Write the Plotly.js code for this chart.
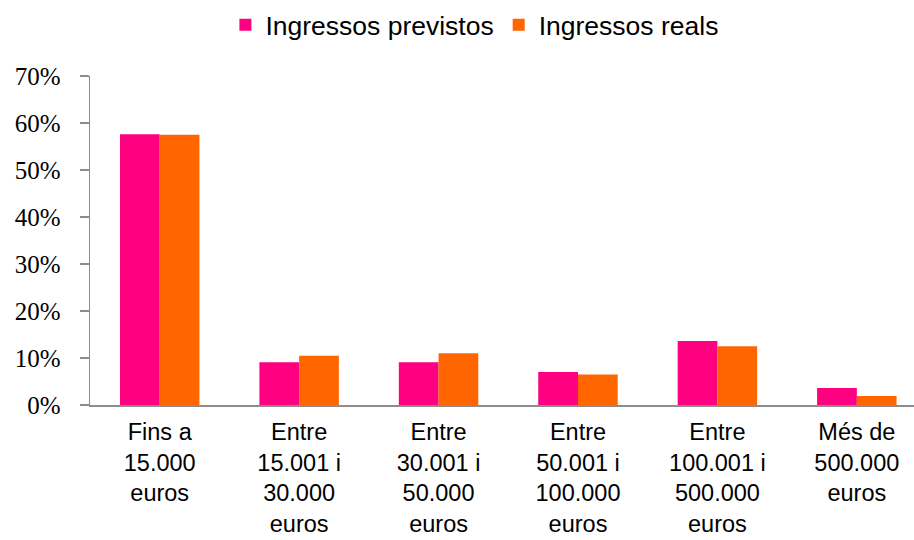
<!DOCTYPE html>
<html>
<head>
<meta charset="utf-8">
<script src="https://cdn.plot.ly/plotly-3.0.1.min.js"></script>
<style>html,body{margin:0;padding:0;background:#fff;}#chart{width:914px;height:540px;}</style>
</head>
<body>
<div id="chart"></div>
<script>
const categories = [
  "Fins a<br>15.000<br>euros",
  "Entre<br>15.001 i<br>30.000<br>euros",
  "Entre<br>30.001 i<br>50.000<br>euros",
  "Entre<br>50.001 i<br>100.000<br>euros",
  "Entre<br>100.001 i<br>500.000<br>euros",
  "Més de<br>500.000<br>euros"
];
const ingressosPrevistos = [57.6, 9.1, 9.1, 7.0, 13.6, 3.6];
const ingressosReals = [57.5, 10.5, 11.0, 6.5, 12.5, 1.9];
const yTickVals = [0, 10, 20, 30, 40, 50, 60, 70];
const yTickText = ["0%", "10%", "20%", "30%", "40%", "50%", "60%", "70%"];

const traces = [
  {type: 'bar', name: 'Ingressos previstos', x: categories, y: ingressosPrevistos,
   marker: {color: '#FF0080'}},
  {type: 'bar', name: 'Ingressos reals', x: categories, y: ingressosReals,
   marker: {color: '#FF6600'}}
];

const layout = {
  width: 914, height: 540,
  margin: {l: 90, r: 0, t: 76, b: 135, pad: 0},
  paper_bgcolor: '#fff', plot_bgcolor: '#fff',
  barmode: 'group', bargap: 0.43, bargroupgap: 0,
  showlegend: true,
  legend: {orientation: 'h', x: 0.4665, xanchor: 'center', y: 1.155, yanchor: 'middle',
    font: {family: 'Liberation Sans, Arial, sans-serif', size: 26.5, color: '#000'},
    itemwidth: 30, traceorder: 'normal'},
  xaxis: {type: 'category', range: [-0.5, 5.41], showline: true, linecolor: '#8c8c8c', linewidth: 2,
    ticks: '', showgrid: false, zeroline: false,
    tickfont: {family: 'Liberation Sans, Arial, sans-serif', size: 23.5, color: '#000'},
    ticklabelstandoff: 5},
  yaxis: {range: [0, 70], tickmode: 'array', tickvals: yTickVals, ticktext: yTickText,
    showline: true, linecolor: '#8c8c8c',
    linewidth: 1.5, ticks: 'outside', ticklen: 9, tickcolor: '#8c8c8c', tickwidth: 1.5,
    showgrid: false, zeroline: false, ticklabelstandoff: 14,
    tickfont: {family: 'Liberation Serif, DejaVu Serif, serif', size: 25, color: '#000'}}
};

Plotly.newPlot('chart', traces, layout, {displayModeBar: false, staticPlot: true});
</script>
</body>
</html>
